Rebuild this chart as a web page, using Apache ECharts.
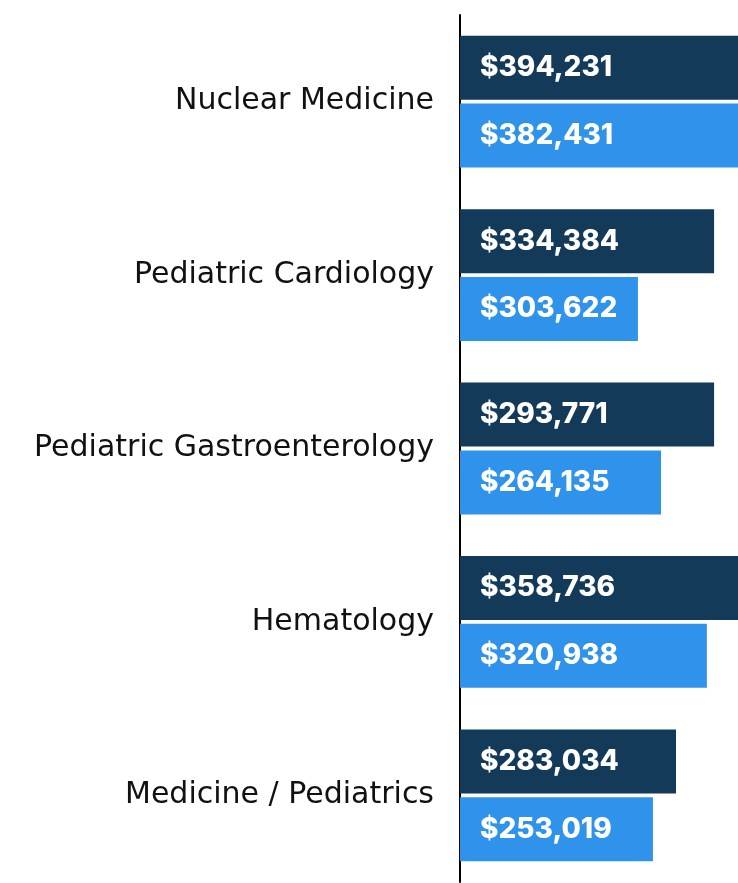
<!DOCTYPE html>
<html>
  <head>
    <meta charset="utf-8" />
    <title>Specialty salaries</title>
    <script src="https://cdn.jsdelivr.net/npm/echarts@6/dist/echarts.min.js"></script>
    <style>
      html, body { margin: 0; padding: 0; background: #fff; }
      #chart { width: 738px; height: 883px; }
    </style>
  </head>
  <body>
    <div id="chart"></div>
    <script type="text/javascript">
      // categories, top to bottom
      var specialties = ['Nuclear Medicine', 'Pediatric Cardiology', 'Pediatric Gastroenterology', 'Hematology', 'Medicine / Pediatrics'];

      // bar lengths (share of the visible width, 100 = right edge)
      var darkLengths = [110, 91.4, 91.4, 105, 77.7];
      var lightLengths = [105, 64, 72.3, 88.8, 69.4];

      // text printed on the bars
      var darkLabels = ['$394,231', '$334,384', '$293,771', '$358,736', '$283,034'];
      var lightLabels = ['$382,431', '$303,622', '$264,135', '$320,938', '$253,019'];

      var chart = echarts.init(document.getElementById('chart'));

      var barLabel = function (texts) {
        return {
          show: true,
          position: 'insideLeft',
          distance: 20,
          color: '#fff',
          fontFamily: 'Inter',
          fontWeight: 800,
          fontSize: 28,
          formatter: function (p) { return texts[p.dataIndex]; }
        };
      };

      var option = {
        animation: false,
        grid: { left: 460, right: 0, top: 15, bottom: 1 },
        xAxis: {
          type: 'value',
          min: 0,
          max: 100,
          show: false
        },
        yAxis: {
          type: 'category',
          inverse: true,
          data: specialties,
          axisLine: { show: true, lineStyle: { color: '#000', width: 2 } },
          axisTick: { show: false },
          axisLabel: {
            margin: 26,
            color: '#111',
            fontFamily: 'DejaVu Sans',
            fontSize: 30
          }
        },
        series: [
          {
            name: 'Dark',
            type: 'bar',
            barWidth: 64,
            barGap: '6%',
            itemStyle: { color: '#143a5a' },
            label: barLabel(darkLabels),
            data: darkLengths
          },
          {
            name: 'Light',
            type: 'bar',
            barWidth: 64,
            barGap: '6%',
            itemStyle: { color: '#2f92eb' },
            label: barLabel(lightLabels),
            data: lightLengths
          }
        ]
      };
      chart.setOption(option);
    </script>
  </body>
</html>
